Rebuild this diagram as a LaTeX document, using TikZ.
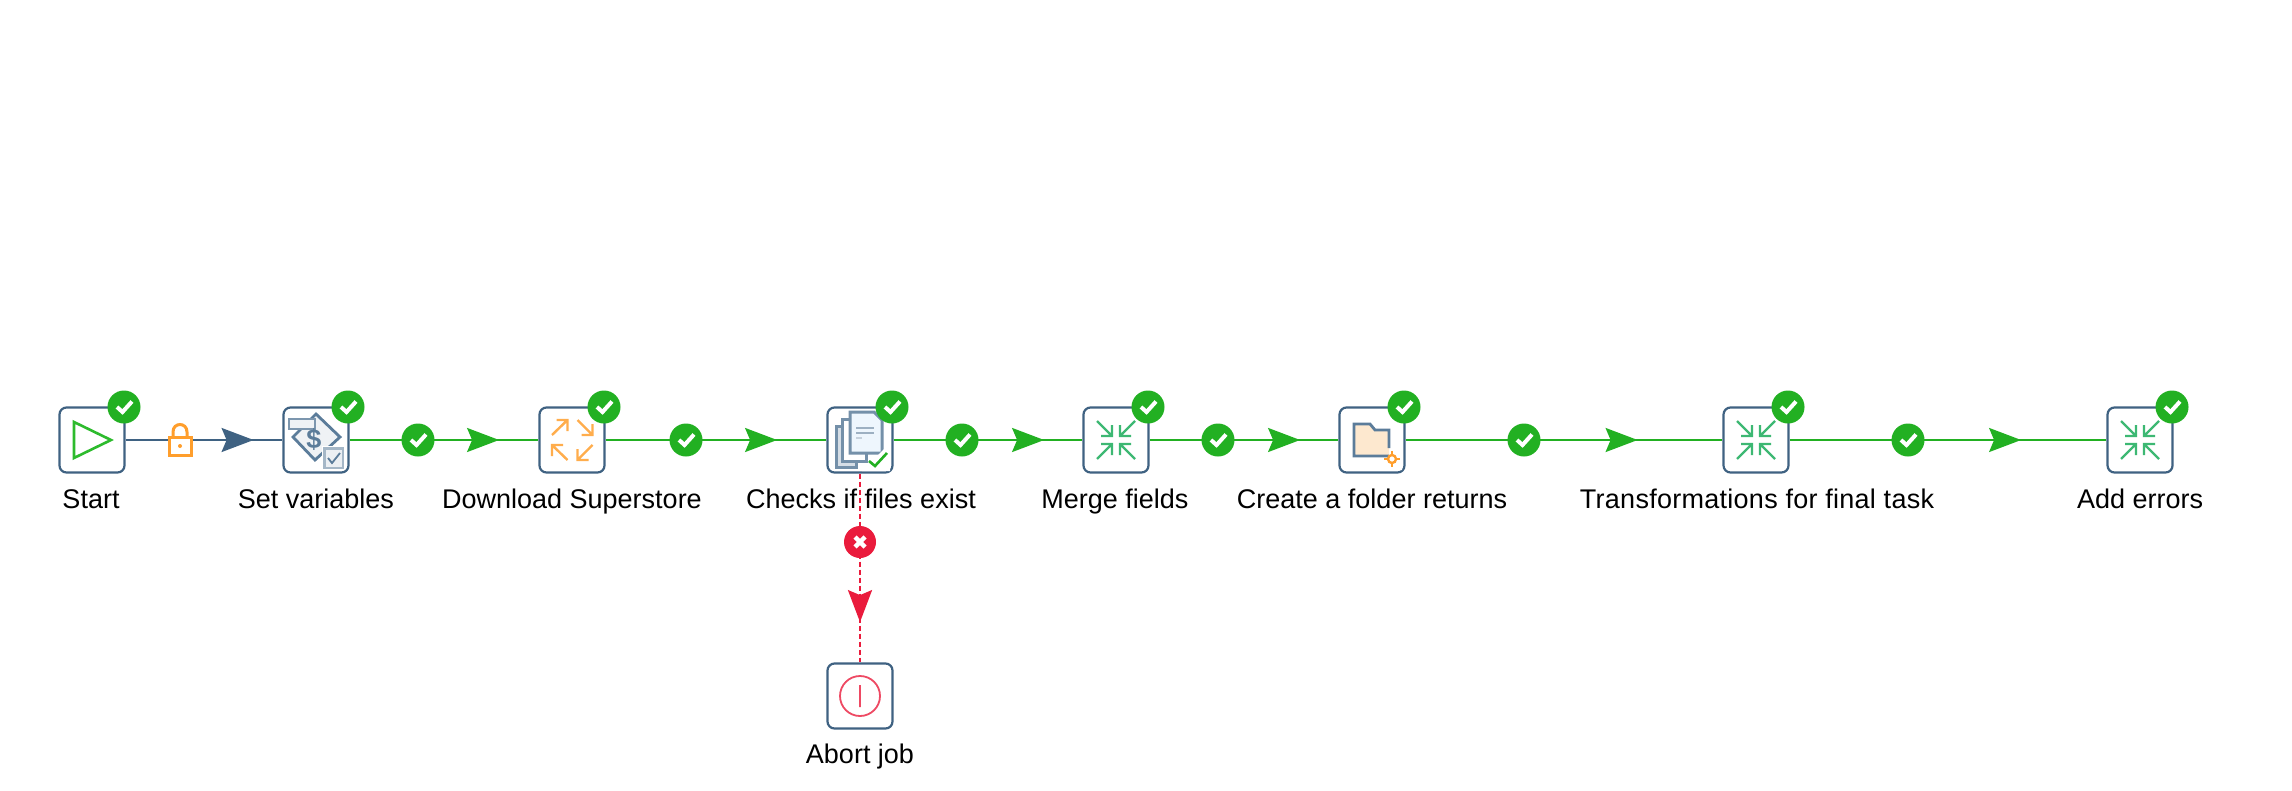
\documentclass[tikz,border=0pt]{standalone}
\usepackage{fontspec}
\setmainfont{Liberation Sans}
\usetikzlibrary{arrows.meta,decorations.markings}
\definecolor{boxblue}{HTML}{3F6282}
\definecolor{okgreen}{HTML}{22B022}
\definecolor{errred}{HTML}{EA1B3C}
\definecolor{lockorange}{HTML}{FF9E2C}
\definecolor{mergegreen}{HTML}{3DB873}
\definecolor{icongrey}{HTML}{5B7C9A}
\definecolor{startgreen}{HTML}{2DBB2D}
\definecolor{folderfill}{HTML}{FDE8CF}
\definecolor{pagefill}{HTML}{EEF6FD}
\tikzset{
  x=1bp,y=-1bp,
  jobbox/.style={draw=boxblue,line width=2.2bp,fill=white,rounded corners=7bp,minimum size=65bp,inner sep=0pt},
  joblabel/.style={font=\fontsize{27bp}{30bp}\selectfont,text=black,inner sep=0pt,anchor=base},
  badgeok/.style={circle,fill=okgreen,minimum size=33bp,inner sep=0pt,
    path picture={\draw[white,line width=4bp]
      ([shift={(-7,0)}]path picture bounding box.center) --
      ([shift={(-1.5,5)}]path picture bounding box.center) --
      ([shift={(8,-5.5)}]path picture bounding box.center);}},
  badgeerr/.style={circle,fill=errred,minimum size=32bp,inner sep=0pt,
    path picture={\draw[white,line width=4.5bp]
      ([shift={(-5,-5)}]path picture bounding box.center) -- ([shift={(5,5)}]path picture bounding box.center)
      ([shift={(-5,5)}]path picture bounding box.center) -- ([shift={(5,-5)}]path picture bounding box.center);}},
  tipat/.style n args={2}{postaction={decorate},decoration={markings,
    mark=at position #1 with {\arrow[#2]{Stealth[length=32bp,width=24bp,inset=5bp]}}}},
  edgeblue/.style={draw=boxblue,line width=2.2bp},
  edgeok/.style={draw=okgreen,line width=2.2bp},
  edgeerr/.style={draw=errred,line width=2.4bp,dash pattern=on 5bp off 3bp},
  inarrow/.pic={
    \draw[mergegreen,line width=2.2bp]
      (-19,-19)--(-4,-4) (-4,-15)--(-4,-4)--(-15,-4)
      (19,-19)--(4,-4) (4,-15)--(4,-4)--(15,-4)
      (-19,19)--(-4,4) (-4,15)--(-4,4)--(-15,4)
      (19,19)--(4,4) (4,15)--(4,4)--(15,4);
  },
  outarrow/.pic={
    \draw[lockorange!85!white,line width=2.4bp]
      (-20,-5)--(-4.5,-20) (-15.5,-20)--(-4.5,-20)--(-4.5,-9)
      (5.5,-20)--(20.5,-5) (20.5,-16)--(20.5,-5)--(9.5,-5)
      (-4.5,20)--(-20,5) (-20,16)--(-20,5)--(-9,5)
      (20.5,5)--(5.5,20) (5.5,9)--(5.5,20)--(16.5,20);
  },
  startic/.pic={
    \draw[startgreen,line width=2.6bp,line join=miter] (-18,-18)--(19,0)--(-18,18)--cycle;
  },
  varsic/.pic={
    \draw[icongrey,fill=icongrey!10,line width=2.8bp] (0,-26)--(24,-3)--(-1,20)--(-23,-3)--cycle;
    \fill[white] (6,6) rectangle (29,30);
    \draw[icongrey!55,fill=icongrey!12,line width=2.4bp] (8.5,8.5) rectangle (27,28);
    \draw[icongrey,line width=1.8bp] (12,18)--(16,23)--(24,13);
    \draw[icongrey!80,fill=icongrey!10,line width=2.6bp] (-27,-21) rectangle (-1,-11);
    \node[font=\fontsize{27bp}{27bp}\selectfont\bfseries,text=icongrey,inner sep=0pt] (varsign) at (-2,-1) {\$};
  },
  pagesic/.pic={
    \draw[icongrey!85,fill=icongrey!25,line width=3bp] (-24,-14)--(-24,27)--(-4,27)--(-4,-14)--cycle;
    \draw[icongrey!85,fill=white,line width=3bp] (-18,-21)--(-18,21)--(6,21)--(6,-21)--cycle;
    \draw[icongrey!85,fill=pagefill,line width=3bp] (-10,-28)--(14,-28)--(22,-20)--(22,13)--(-10,13)--cycle;
    \draw[icongrey!60,line width=2bp] (-4,-12)--(14,-12) (-4,-7)--(14,-7);
    \draw[icongrey!35,line width=2bp] (-4,-2)--(2,-2);
    \fill[white] (2,31)--(30,3)--(30,31)--cycle;
    \draw[okgreen,line width=2.6bp] (9,21)--(15,26)--(27,13);
  },
  folderic/.pic={
    \fill[folderfill] (-18,-16)--(-2,-16)--(3,-10)--(17,-10)--(17,16)--(-18,16)--cycle;
    \draw[icongrey,line width=2.8bp] (17,16)--(-18,16)--(-18,-16)--(-2,-16)--(3,-10)--(17,-10)--(17,8);
    \fill[white] (4,30)--(30,4)--(30,30)--cycle;
    \draw[lockorange,line width=2.4bp] (20,19) circle[radius=4bp];
    \draw[lockorange,line width=2.4bp] (20,11)--(20,15) (20,23)--(20,27) (12,19)--(16,19) (24,19)--(28,19);
  },
  abortic/.pic={
    \draw[errred!80!white,line width=1.8bp] (0,0) circle[radius=20bp] (0,-11)--(0,11);
  },
  lockic/.pic={
    \draw[lockorange,line width=3bp,fill=white] (-11,-3) rectangle (11,15);
    \draw[lockorange,line width=3bp] (-7,-3)--(-7,-8) .. controls (-7,-18) and (7,-18) .. (7,-8)--(7,-3);
    \fill[lockorange] (0,6) circle[radius=2bp];
  },
}
\begin{document}
\begin{tikzpicture}
\useasboundingbox (0,0) rectangle (2292,790);
\fill[white] (0,0) rectangle (2292,790);
% job boxes
\node[jobbox] (start) at (92,440) {};
\node[jobbox] (setvars) at (316,440) {};
\node[jobbox] (download) at (572,440) {};
\node[jobbox] (checks) at (860,440) {};
\node[jobbox] (merge) at (1116,440) {};
\node[jobbox] (folder) at (1372,440) {};
\node[jobbox] (transf) at (1756,440) {};
\node[jobbox] (adderr) at (2140,440) {};
\node[jobbox] (abort) at (860,696) {};
% icons
\pic at (start) {startic};
\pic at (setvars) {varsic};
\pic at (download) {outarrow};
\pic at (checks) {pagesic};
\pic at (merge) {inarrow};
\pic at (folder) {folderic};
\pic at (transf) {inarrow};
\pic at (adderr) {inarrow};
\pic at (abort) {abortic};
% labels
\node[joblabel] (lstart) at (91,508) {Start};
\node[joblabel] (lsetvars) at (316,508) {Set variables};
\node[joblabel] (ldownload) at (572,508) {Download Superstore};
\node[joblabel] (lchecks) at (861,508) {Checks if files exist};
\node[joblabel] (lmerge) at (1115,508) {Merge fields};
\node[joblabel] (lfolder) at (1372,508) {Create a folder returns};
\node[joblabel] (ltransf) at (1757,508) {\addfontfeature{LetterSpace=1}Transformations for final task};
\node[joblabel] (ladderr) at (2140,508) {Add errors};
\node[joblabel] (labort) at (860,763) {Abort job};
% connectors
\draw[edgeblue,tipat={128bp}{boxblue}] (start) -- (setvars);
\draw[edgeok,tipat={149.5bp}{okgreen}] (setvars) -- (download);
\draw[edgeok,tipat={171.5bp}{okgreen}] (download) -- (checks);
\draw[edgeok,tipat={150.5bp}{okgreen}] (checks) -- (merge);
\draw[edgeok,tipat={150.5bp}{okgreen}] (merge) -- (folder);
\draw[edgeok,tipat={232bp}{okgreen}] (folder) -- (transf);
\draw[edgeok,tipat={231.5bp}{okgreen}] (transf) -- (adderr);
\draw[edgeerr,tipat={148.5bp}{errred,solid}] (checks) -- (abort);
% connector badges
\pic at (180,440) {lockic};
\node[badgeok] (e1) at (418,440) {};
\node[badgeok] (e2) at (686,440) {};
\node[badgeok] (e3) at (962,440) {};
\node[badgeok] (e4) at (1218,440) {};
\node[badgeok] (e5) at (1524,440) {};
\node[badgeok] (e6) at (1908,440) {};
\node[badgeerr] (e7) at (860,542) {};
% job status badges
\node[badgeok] (b1) at (124,407) {};
\node[badgeok] (b2) at (348,407) {};
\node[badgeok] (b3) at (604,407) {};
\node[badgeok] (b4) at (892,407) {};
\node[badgeok] (b5) at (1148,407) {};
\node[badgeok] (b6) at (1404,407) {};
\node[badgeok] (b7) at (1788,407) {};
\node[badgeok] (b8) at (2172,407) {};
\end{tikzpicture}
\end{document}
